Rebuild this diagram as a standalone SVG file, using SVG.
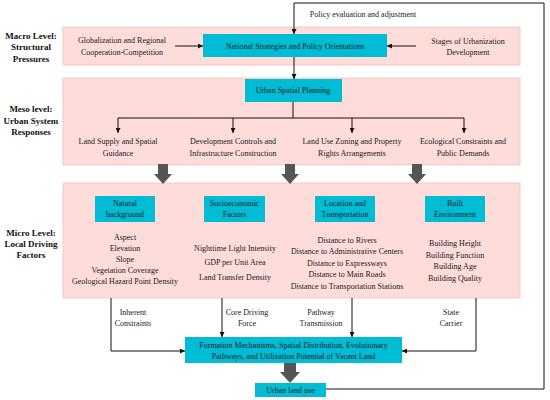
<svg xmlns="http://www.w3.org/2000/svg" width="550" height="400" viewBox="0 0 550 400">
<style>
.panel{fill:#fddcd9;stroke:#f6cbc6;stroke-width:1}
.box{fill:#00bcd4}
.t{font-family:"Liberation Serif","Times New Roman",serif;font-size:8px;fill:#1a1a1a;text-anchor:middle}
.lab{font-family:"Liberation Serif","Times New Roman",serif;font-size:9px;font-weight:bold;fill:#111;text-anchor:middle}
.ln{fill:none;stroke:#111;stroke-width:1}
.big{fill:#555}
</style>
<defs>
<marker id="ah" viewBox="0 0 10 10" refX="10" refY="5" markerWidth="5" markerHeight="5" markerUnits="userSpaceOnUse" orient="auto">
<path d="M0,0 L10,5 L0,10 z" fill="#111"/>
</marker>
</defs>
<rect width="550" height="400" fill="#fff"/>
<g id="panels">
<rect class="panel" x="63" y="27" width="457" height="38"/>
<rect class="panel" x="63" y="78" width="457" height="87"/>
<rect class="panel" x="63" y="183" width="457" height="115"/>
</g>
<g id="level-labels">
<text class="lab" x="31" y="39">Macro Level:</text>
<text class="lab" x="31" y="50">Structural</text>
<text class="lab" x="31" y="62">Pressures</text>
<text class="lab" x="31" y="112">Meso level:</text>
<text class="lab" x="31" y="124">Urban System</text>
<text class="lab" x="31" y="135">Responses</text>
<text class="lab" x="31" y="236">Micro Level:</text>
<text class="lab" x="31" y="247">Local Driving</text>
<text class="lab" x="31" y="258">Factors</text>
</g>
<g id="connectors">
<line class="ln" x1="175" y1="46" x2="203" y2="46" marker-end="url(#ah)"/>
<line class="ln" x1="416" y1="46" x2="387" y2="46" marker-end="url(#ah)"/>
<path class="ln" d="M326,389 H544 V3 H294 V34" marker-end="url(#ah)" stroke-width="1.2"/>
<line class="ln" x1="294" y1="57" x2="294" y2="79" marker-end="url(#ah)"/>
<path class="ln" d="M293,102 V118 M118,118 H464" stroke-width="1.5"/>
<line class="ln" x1="118" y1="118" x2="118" y2="133" marker-end="url(#ah)"/>
<line class="ln" x1="233" y1="118" x2="233" y2="133" marker-end="url(#ah)"/>
<line class="ln" x1="352" y1="118" x2="352" y2="133" marker-end="url(#ah)"/>
<line class="ln" x1="464" y1="118" x2="464" y2="133" marker-end="url(#ah)"/>
<path class="big" d="M158,164 H168 V174 H172 L163,184 L154,174 H158 z"/>
<path class="big" d="M285,164 H295 V174 H299 L290,184 L281,174 H285 z"/>
<path class="big" d="M412,164 H422 V174 H426 L417,184 L408,174 H412 z"/>
<path class="ln" d="M111,298 V351 H185" marker-end="url(#ah)"/>
<line class="ln" x1="222" y1="298" x2="222" y2="337" marker-end="url(#ah)"/>
<line class="ln" x1="352" y1="298" x2="352" y2="337" marker-end="url(#ah)"/>
<path class="ln" d="M476,298 V351 H402" marker-end="url(#ah)"/>
<path class="big" d="M284,363 H296 V372 H300 L290,383 L280,372 H284 z"/>
</g>
<g id="macro-left">
<text class="t" x="122" y="43">Globalization and Regional</text>
<text class="t" x="122" y="55">Cooperation-Competition</text>
</g>
<g id="macro-right">
<text class="t" x="468" y="44">Stages of Urbanization</text>
<text class="t" x="468" y="55">Development</text>
</g>
<g id="national">
<rect class="box" x="203" y="34" width="184" height="23"/>
<text class="t" x="295" y="49">National Strategies and Policy Orientations</text>
</g>
<g id="policy-label">
<text class="t" x="363" y="17">Policy evaluation and adjustment</text>
</g>
<g id="urban-planning">
<rect class="box" x="245" y="79" width="97" height="23"/>
<text class="t" x="293" y="93">Urban Spatial Planning</text>
</g>
<g id="meso-items">
<text class="t" x="118" y="144">Land Supply and Spatial</text>
<text class="t" x="118" y="156">Guidance</text>
<text class="t" x="233" y="144">Development Controls and</text>
<text class="t" x="233" y="156">Infrastructure Construction</text>
<text class="t" x="352" y="144">Land Use Zoning and Property</text>
<text class="t" x="352" y="156">Rights Arrangements</text>
<text class="t" x="463" y="144">Ecological Constraints and</text>
<text class="t" x="463" y="156">Public Demands</text>
</g>
<g id="natural">
<rect class="box" x="95" y="196" width="60" height="26"/>
<text class="t" x="125" y="206">Natural</text>
<text class="t" x="125" y="217">background</text>
<text class="t" x="125" y="240">Aspect</text>
<text class="t" x="125" y="251">Elevation</text>
<text class="t" x="125" y="262">Slope</text>
<text class="t" x="125" y="273">Vegetation Coverage</text>
<text class="t" x="125" y="284">Geological Hazard Point Density</text>
</g>
<g id="socio">
<rect class="box" x="204" y="196" width="61" height="26"/>
<text class="t" x="234.500" y="206">Socioeconomic</text>
<text class="t" x="234.500" y="217">Factors</text>
<text class="t" x="235" y="251">Nighttime Light Intensity</text>
<text class="t" x="235" y="265">GDP per Unit Area</text>
<text class="t" x="235" y="280">Land Transfer Density</text>
</g>
<g id="location">
<rect class="box" x="315" y="196" width="60" height="26"/>
<text class="t" x="345" y="206">Location and</text>
<text class="t" x="345" y="217">Transportation</text>
<text class="t" x="347" y="243">Distance to Rivers</text>
<text class="t" x="347" y="254">Distance to Administrative Centers</text>
<text class="t" x="347" y="266">Distance to Expressways</text>
<text class="t" x="347" y="277">Distance to Main Roads</text>
<text class="t" x="347" y="289">Distance to Transportation Stations</text>
</g>
<g id="built">
<rect class="box" x="425" y="196" width="60" height="26"/>
<text class="t" x="455" y="206">Built</text>
<text class="t" x="455" y="217">Environment</text>
<text class="t" x="455" y="246">Building Height</text>
<text class="t" x="455" y="258">Building Function</text>
<text class="t" x="455" y="269">Building Age</text>
<text class="t" x="455" y="281">Building Quality</text>
</g>
<g id="flow-labels">
<text class="t" x="133" y="315">Inherent</text>
<text class="t" x="133" y="326">Constraints</text>
<text class="t" x="247" y="315">Core Driving</text>
<text class="t" x="247" y="326">Force</text>
<text class="t" x="321" y="315">Pathway</text>
<text class="t" x="321" y="326">Transmission</text>
<text class="t" x="451" y="315">State</text>
<text class="t" x="451" y="326">Carrier</text>
</g>
<g id="formation">
<rect class="box" x="185" y="337" width="217" height="26"/>
<text class="t" x="293.500" y="348">Formation Mechanisms, Spatial Distribution, Evolutionary</text>
<text class="t" x="293.500" y="359">Pathways, and Utilization Potential of Vacant Land</text>
</g>
<g id="urban-land-use">
<rect class="box" x="255" y="383" width="71" height="14"/>
<text class="t" x="290.500" y="393">Urban land use</text>
</g>
</svg>
